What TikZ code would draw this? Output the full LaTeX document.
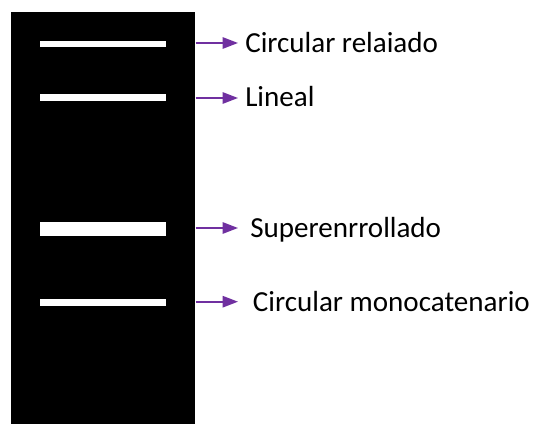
\documentclass[tikz,border=0pt]{standalone}
\usepackage{fontspec}
\setmainfont{Carlito}
\usetikzlibrary{arrows.meta}
\definecolor{arrpurple}{HTML}{7030A0}
\begin{document}
\begin{tikzpicture}[x=0.75pt,y=-0.75pt,
  band/.style={fill=white,draw=none,inner sep=0pt,minimum width=125.5*0.75pt},
  lbl/.style={anchor=base west,inner sep=0pt,font=\fontsize{21.8pt}{26pt}\selectfont,text=black},
  arr/.style={draw=arrpurple,line width=1.3pt,-{Triangle[length=11.5pt,width=8.5pt]}}]
\useasboundingbox (0,0) rectangle (535,424);
\fill[white] (0,0) rectangle (535,424);
\node[fill=black,draw=none,inner sep=0pt,minimum width=184*0.75pt,minimum height=412*0.75pt,anchor=north west] (gel) at (11,12) {};
\node[band,minimum height=6.5*0.75pt] (b1) at (103,44) {};
\node[band,minimum height=6.5*0.75pt] (b2) at (103,97.5) {};
\node[band,minimum height=14*0.75pt] (b3) at (103,229) {};
\node[band,minimum height=7*0.75pt] (b4) at (103,302.5) {};
\node[lbl] (l1) at (245,52.3) {Circular relaiado};
\node[lbl] (l2) at (245,107) {Lineal};
\node[lbl] (l3) at (250,237.7) {Superenrrollado};
\node[lbl] (l4) at (252.7,311.7) {Circular monocatenario};
\coordinate (t1) at (238,43);
\coordinate (t2) at (238,98);
\coordinate (t3) at (238,228);
\coordinate (t4) at (238,301.7);
\draw[arr] (gel.east |- t1) -- (t1);
\draw[arr] (gel.east |- t2) -- (t2);
\draw[arr] (gel.east |- t3) -- (t3);
\draw[arr] (gel.east |- t4) -- (t4);
\end{tikzpicture}
\end{document}
